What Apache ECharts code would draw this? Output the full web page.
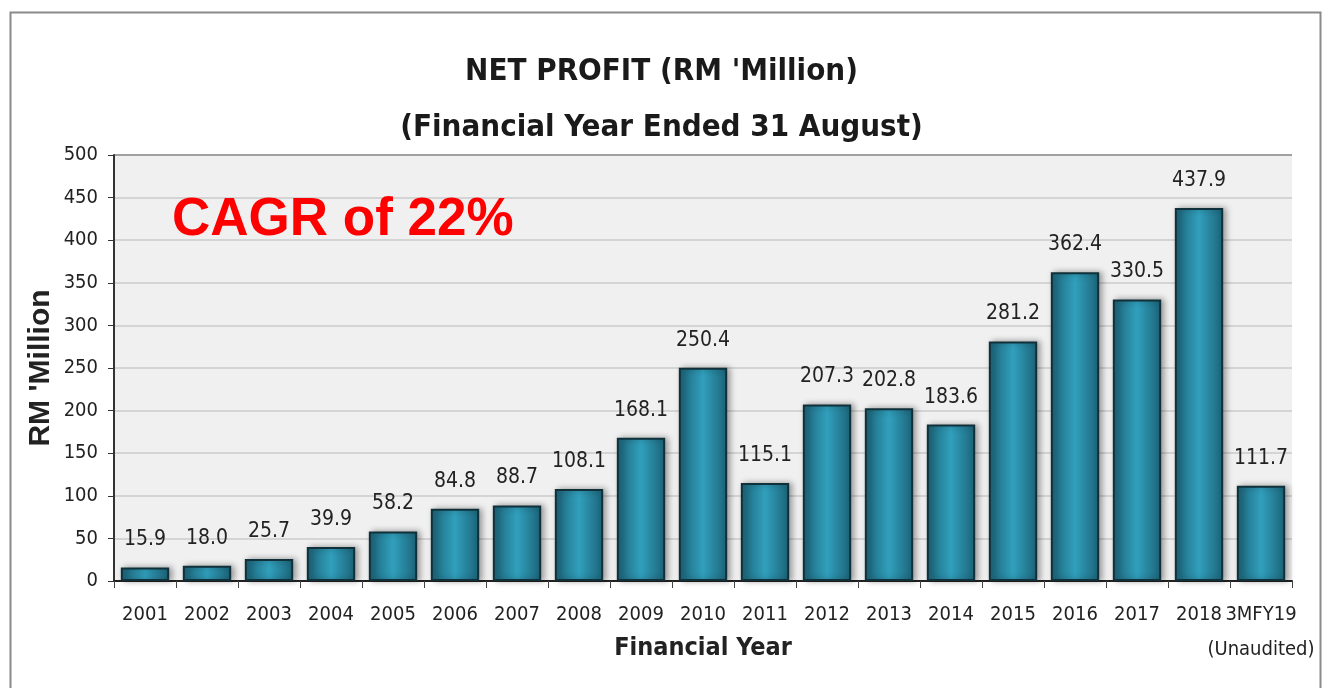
<!DOCTYPE html>
<html>
<head>
<meta charset="utf-8">
<script src="https://cdn.jsdelivr.net/npm/echarts@6/dist/echarts.min.js"></script>
<style>html,body{margin:0;padding:0;background:#fff;}#c{width:1323px;height:688px;}</style>
</head>
<body>
<div id="c"></div>
<script>
const categories = ['2001','2002','2003','2004','2005','2006','2007','2008','2009','2010','2011','2012','2013','2014','2015','2016','2017','2018','3MFY19\n(Unaudited)'];
const netProfit = [15.9, 18.0, 25.7, 39.9, 58.2, 84.8, 88.7, 108.1, 168.1, 250.4, 115.1, 207.3, 202.8, 183.6, 281.2, 362.4, 330.5, 437.9, 111.7];
const yTicks = {min: 0, max: 500, interval: 50};
const titleText = "NET PROFIT (RM 'Million)\n(Financial Year Ended 31 August)";
const cagrText = 'CAGR of 22%';

const NARROW = '"DejaVu Sans Condensed", "Liberation Sans Narrow", "Arial Narrow", sans-serif';
const gridColors = ['#d4d4d4','#d4d4d4','#d4d4d4','#d4d4d4','#d4d4d4','#d4d4d4','#d4d4d4','#d4d4d4','#d4d4d4','#d4d4d4','#a0a0a0'];
const chart = echarts.init(document.getElementById('c'));
chart.setOption({
  animation: false,
  backgroundColor: '#ffffff',
  title: {
    text: titleText,
    left: 'center',
    top: 39,
    textStyle: {fontFamily: NARROW, fontWeight: 'bold', fontSize: 31, lineHeight: 56, color: '#1a1a1a'}
  },
  graphic: [
    {type: 'rect', left: 8, top: 10, shape: {width: 1310, height: 700},
     style: {fill: 'none', stroke: '#8a8a8a', lineWidth: 2}, z: 100, silent: true},
    {type: 'text', left: 172, top: 194, z: 100,
     style: {text: cagrText, fill: '#ff0000', fontFamily: 'Arial, "Liberation Sans", sans-serif', fontWeight: 'bold', fontSize: 53}}
  ],
  grid: {left: 114, right: 31, top: 155, bottom: 107, show: true, backgroundColor: '#f0f0f0', borderWidth: 0, outerBoundsMode: 'none', containLabel: false},
  xAxis: {
    type: 'category',
    data: categories,
    name: 'Financial Year',
    nameLocation: 'middle',
    nameGap: 55,
    nameMoveOverlap: false,
    nameTextStyle: {fontFamily: NARROW, fontWeight: 'bold', fontSize: 25, color: '#222'},
    axisLine: {lineStyle: {color: '#222', width: 2}},
    axisTick: {show: true, length: 7, lineStyle: {color: '#444', width: 1}},
    axisLabel: {fontFamily: NARROW, fontSize: 20, color: '#222', margin: 16, lineHeight: 35, interval: 0}
  },
  yAxis: {
    type: 'value',
    min: yTicks.min, max: yTicks.max, interval: yTicks.interval,
    name: "RM 'Million",
    nameLocation: 'middle',
    nameGap: 58,
    nameRotate: 90,
    nameMoveOverlap: false,
    nameTextStyle: {fontFamily: 'Arial, "Liberation Sans", sans-serif', fontWeight: 'bold', fontSize: 30, color: '#222'},
    axisLine: {show: true, lineStyle: {color: '#333', width: 2}},
    axisTick: {show: true, length: 6, lineStyle: {color: '#333'}},
    axisLabel: {fontFamily: NARROW, fontSize: 20, color: '#222', margin: 16},
    splitLine: {lineStyle: {color: gridColors, width: 2}}
  },
  series: [{
    type: 'bar',
    data: netProfit,
    barCategoryGap: '22%',
    itemStyle: {
      color: new echarts.graphic.LinearGradient(0, 0, 1, 0, [
        {offset: 0, color: '#1c6378'},
        {offset: 0.5, color: '#31a0bd'},
        {offset: 1, color: '#1c6378'}
      ]),
      borderColor: '#10303a',
      borderWidth: 2,
      shadowBlur: 6,
      shadowColor: 'rgba(0,0,0,0.35)',
      shadowOffsetX: 3,
      shadowOffsetY: 0
    },
    label: {
      show: true,
      position: 'top',
      distance: 17,
      formatter: p => p.value.toFixed(1),
      fontFamily: NARROW, fontSize: 21, color: '#222'
    }
  }]
});
</script>
</body>
</html>
